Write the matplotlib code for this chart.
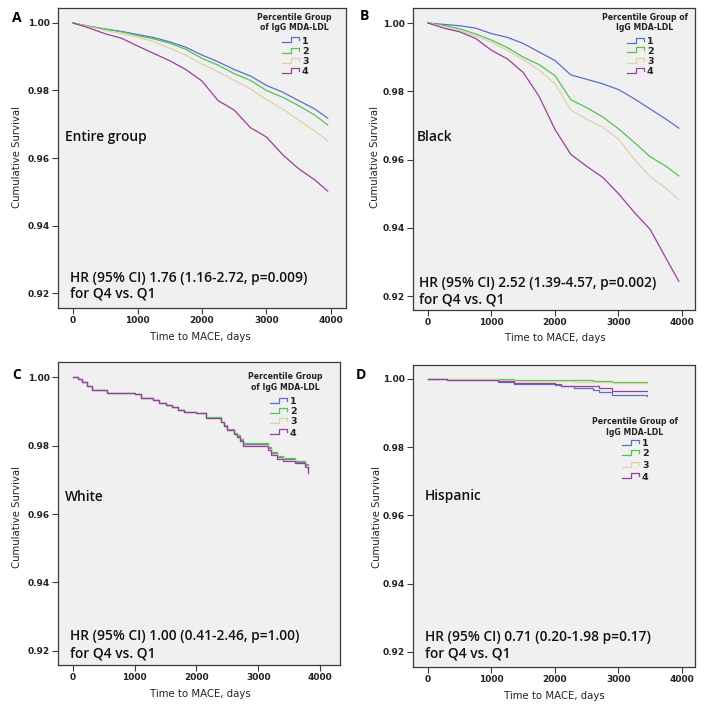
import numpy as np
import matplotlib
matplotlib.use("Agg")
import matplotlib.pyplot as plt

W, H = 704, 709

groups = ["1", "2", "3", "4"]
colors = ["#5b6fc8", "#55c255", "#dcd3a8", "#9a3f9e"]

# panel A / B: survival read every 250 days
t_ab = [0, 250, 500, 750, 1000, 1250, 1500, 1750, 2000, 2250, 2500, 2750, 3000, 3250, 3500, 3750, 3950]
a_q1 = [1.0, 0.9990, 0.9982, 0.9975, 0.9966, 0.9957, 0.9944, 0.9928, 0.9905, 0.9885, 0.9862, 0.9843, 0.9815, 0.9795, 0.9770, 0.9745, 0.9718]
a_q2 = [1.0, 0.9990, 0.9982, 0.9974, 0.9963, 0.9953, 0.9940, 0.9922, 0.9895, 0.9875, 0.9850, 0.9830, 0.9800, 0.9780, 0.9755, 0.9727, 0.9698]
a_q3 = [1.0, 0.9988, 0.9978, 0.9968, 0.9958, 0.9945, 0.9925, 0.9905, 0.9878, 0.9855, 0.9830, 0.9805, 0.9773, 0.9745, 0.9712, 0.9680, 0.9651]
a_q4 = [1.0, 0.9985, 0.9968, 0.9955, 0.9932, 0.9910, 0.9888, 0.9862, 0.9828, 0.9770, 0.9742, 0.9690, 0.9662, 0.9610, 0.9568, 0.9535, 0.9502]

b_q1 = [1.0, 0.9996, 0.9992, 0.9985, 0.9969, 0.9958, 0.9940, 0.9915, 0.9890, 0.9848, 0.9835, 0.9822, 0.9805, 0.9778, 0.9748, 0.9718, 0.9692]
b_q2 = [1.0, 0.9993, 0.9983, 0.9968, 0.9950, 0.9928, 0.9900, 0.9878, 0.9846, 0.9775, 0.9752, 0.9725, 0.9690, 0.9650, 0.9608, 0.9580, 0.9552]
b_q3 = [1.0, 0.9990, 0.9978, 0.9962, 0.9944, 0.9920, 0.9893, 0.9862, 0.9822, 0.9745, 0.9718, 0.9695, 0.9660, 0.9600, 0.9550, 0.9515, 0.9482]
b_q4 = [1.0, 0.9985, 0.9974, 0.9955, 0.9920, 0.9895, 0.9855, 0.9785, 0.9688, 0.9615, 0.9580, 0.9548, 0.9500, 0.9445, 0.9395, 0.9310, 0.9243]

# panel C: step times
t_c = [0, 80, 150, 220, 300, 550, 1000, 1100, 1300, 1400, 1500, 1600, 1700, 1800, 2000, 2150, 2400, 2450, 2500, 2600, 2650, 2700, 2750, 3150, 3200, 3300, 3400, 3600, 3750, 3800]
c_q1 = [1.0, 0.9993, 0.9985, 0.9975, 0.9962, 0.9953, 0.9950, 0.9940, 0.9932, 0.9925, 0.9918, 0.9912, 0.9905, 0.9898, 0.9895, 0.9880, 0.9868, 0.9858, 0.9845, 0.9835, 0.9828, 0.9815, 0.9804, 0.9792, 0.9777, 0.9766, 0.9760, 0.9752, 0.9742, 0.9728]
c_q2 = [1.0, 0.9993, 0.9985, 0.9975, 0.9962, 0.9953, 0.9950, 0.9940, 0.9932, 0.9925, 0.9918, 0.9912, 0.9905, 0.9898, 0.9895, 0.9882, 0.9870, 0.9860, 0.9848, 0.9838, 0.9830, 0.9818, 0.9808, 0.9795, 0.9780, 0.9770, 0.9765, 0.9755, 0.9745, 0.9735]
c_q3 = [1.0, 0.9993, 0.9985, 0.9975, 0.9962, 0.9953, 0.9950, 0.9940, 0.9932, 0.9925, 0.9918, 0.9912, 0.9905, 0.9898, 0.9895, 0.9880, 0.9868, 0.9858, 0.9845, 0.9835, 0.9826, 0.9813, 0.9802, 0.9790, 0.9775, 0.9764, 0.9757, 0.9750, 0.9740, 0.9724]
c_q4 = [1.0, 0.9993, 0.9985, 0.9975, 0.9962, 0.9953, 0.9950, 0.9940, 0.9932, 0.9925, 0.9918, 0.9912, 0.9905, 0.9898, 0.9895, 0.9880, 0.9868, 0.9858, 0.9845, 0.9835, 0.9825, 0.9812, 0.9800, 0.9788, 0.9773, 0.9762, 0.9755, 0.9748, 0.9738, 0.9720]

# panel D: step times
t_d = [0, 300, 800, 1100, 1350, 2000, 2100, 2300, 2600, 2700, 2900, 3450]
d_q1 = [1.0, 0.9998, 0.9996, 0.9991, 0.9984, 0.9982, 0.9978, 0.9973, 0.9968, 0.9963, 0.9953, 0.9950]
d_q2 = [1.0, 1.0, 1.0, 0.9999, 0.9998, 0.9997, 0.9997, 0.9996, 0.9995, 0.9993, 0.9991, 0.9990]
d_q3 = [1.0, 1.0, 0.9999, 0.9996, 0.9994, 0.9993, 0.9993, 0.9992, 0.9991, 0.9990, 0.9989, 0.9988]
d_q4 = [1.0, 0.9997, 0.9996, 0.9993, 0.9987, 0.9985, 0.9980, 0.9980, 0.9978, 0.9973, 0.9966, 0.9966]

x_ticks = [0, 1000, 2000, 3000, 4000]
y_ticks = [0.92, 0.94, 0.96, 0.98, 1.00]

TXT = dict(family="Open Sans", fontweight="semibold", fontsize=9.9, color="#111111")


def fx(px):
    return px / W


def fy(py):
    return 1 - py / H


fig = plt.figure(figsize=(W / 100, H / 100), dpi=100)
fig.patch.set_facecolor("white")

panels = [
    dict(letter="A", lp=(12, 18), box=(58, 8, 346, 308), xlim=(-233, 4233), ylim=(0.91556, 1.00444),
         t=t_ab, s=[a_q1, a_q2, a_q3, a_q4], step=False, name="Entire group", np=(65, 137),
         hr="HR (95% CI) 1.76 (1.16-2.72, p=0.009)", hy=(278, 294), hx=70,
         leg=["Percentile Group", "of IgG MDA-LDL"], lt=(294, 17), lg=(282, 291, 299, 302), ly=[41, 52, 62, 72],
         yl=(17, 157), xl=(200, 337)),
    dict(letter="B", lp=(360, 16), box=(413, 8, 695, 310), xlim=(-236, 4205), ylim=(0.9159, 1.0044),
         t=t_ab, s=[b_q1, b_q2, b_q3, b_q4], step=False, name="Black", np=(417, 137),
         hr="HR (95% CI) 2.52 (1.39-4.57, p=0.002)", hy=(283, 299), hx=419,
         leg=["Percentile Group of", "IgG MDA-LDL"], lt=(645, 17), lg=(627, 636, 644, 647), ly=[42, 51, 62, 72],
         yl=(375, 157), xl=(555, 338)),
    dict(letter="C", lp=(12, 375), box=(58, 362, 340, 665), xlim=(-243, 4324), ylim=(0.9159, 1.0044),
         t=t_c, s=[c_q1, c_q2, c_q3, c_q4], step=True, name="White", np=(65, 497),
         hr="HR (95% CI) 1.00 (0.41-2.46, p=1.00)", hy=(636, 653), hx=70,
         leg=["Percentile Group", "of IgG MDA-LDL"], lt=(285, 377), lg=(270, 279, 287, 290), ly=[402, 412, 422, 433],
         yl=(17, 517), xl=(200, 694)),
    dict(letter="D", lp=(356, 375), box=(413, 365, 695, 667), xlim=(-236, 4205), ylim=(0.9156, 1.0041),
         t=t_d, s=[d_q1, d_q2, d_q3, d_q4], step=True, name="Hispanic", np=(425, 496),
         hr="HR (95% CI) 0.71 (0.20-1.98 p=0.17)", hy=(637, 654), hx=425,
         leg=["Percentile Group of", "IgG MDA-LDL"], lt=(635, 422), lg=(622, 631, 639, 642), ly=[444, 454, 466, 477],
         yl=(377, 517), xl=(554, 696)),
]

for p in panels:
    l, t, r, b = p["box"]
    ax = fig.add_axes([fx(l), fy(b), fx(r - l), (b - t) / H])
    ax.set_facecolor("#f0f0f0")
    for sp in ax.spines.values():
        sp.set_color("#3a3a3a")
        sp.set_linewidth(0.9)
    ax.set_xlim(*p["xlim"])
    ax.set_ylim(*p["ylim"])
    ax.set_xticks(x_ticks)
    ax.set_yticks(y_ticks)
    ax.set_xticklabels([str(v) for v in x_ticks])
    ax.set_yticklabels(["%.2f" % v for v in y_ticks])
    ax.tick_params(direction="out", length=4, width=0.8, color="#3a3a3a", labelsize=6.5, pad=2)
    for lab in ax.get_xticklabels() + ax.get_yticklabels():
        lab.set_fontweight("bold")
        lab.set_color("#222222")
    ds = "steps-post" if p["step"] else "default"
    for s, c in zip(p["s"], colors):
        ax.plot(p["t"], s, color=c, lw=0.9, drawstyle=ds)

    fig.text(fx(p["lp"][0]), fy(p["lp"][1]), p["letter"], fontsize=10, fontweight="bold",
             ha="left", va="center", family="Open Sans")
    fig.text(fx(p["np"][0]), fy(p["np"][1]), p["name"], ha="left", va="center", **TXT)
    fig.text(fx(p["hx"]), fy(p["hy"][0]), p["hr"], ha="left", va="center", **TXT)
    fig.text(fx(p["hx"]), fy(p["hy"][1]), "for Q4 vs. Q1", ha="left", va="center", **TXT)
    fig.text(fx(p["yl"][0]), fy(p["yl"][1]), "Cumulative Survival", fontsize=7.3, rotation=90,
             ha="center", va="center", color="#222222")
    fig.text(fx(p["xl"][0]), fy(p["xl"][1]), "Time to MACE, days", fontsize=7.3,
             ha="center", va="center", color="#222222")

    # legend
    fig.text(fx(p["lt"][0]), fy(p["lt"][1]), p["leg"][0], fontsize=5.6, fontweight="bold",
             ha="center", va="center", color="#222222")
    fig.text(fx(p["lt"][0]), fy(p["lt"][1] + 10), p["leg"][1], fontsize=5.6, fontweight="bold",
             ha="center", va="center", color="#222222")
    x0, x1, x2, xt = p["lg"]
    for g, c, yy in zip(groups, colors, p["ly"]):
        xs = [fx(x0), fx(x1), fx(x1), fx(x2), fx(x2)]
        ys = [fy(yy + 1), fy(yy + 1), fy(yy - 4), fy(yy - 4), fy(yy - 1)]
        ax.plot(xs, ys, color=c, lw=0.9, transform=fig.transFigure, clip_on=False)
        fig.text(fx(xt), fy(yy), g, fontsize=6.8, fontweight="bold", ha="left", va="center", color="#222222")

fig.savefig("out.png", dpi=100)
